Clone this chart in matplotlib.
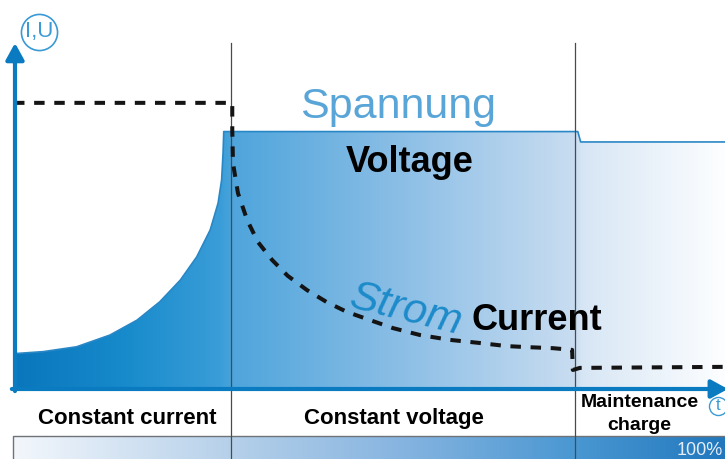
import numpy as np
import matplotlib
matplotlib.use('Agg')
import matplotlib.pyplot as plt
from matplotlib.patches import Polygon, Rectangle
from matplotlib.colors import to_rgb

plt.rcParams['font.family'] = ['Liberation Sans', 'DejaVu Sans']

# charging curve, time 0..100, level 0..100 (schematic units)
volt_t = [0, 0.6, 4.1, 8.8, 13.5, 17.3, 20.5, 23.4, 25.7, 27.6, 28.7, 29.2, 29.4, 29.5,
          79.3, 79.7, 100]
volt_v = [10.3, 10.3, 10.8, 12.2, 15.6, 19.9, 25.2, 31.5, 38.2, 46.0, 53.7, 60.4, 68.1, 74.4,
          74.4, 71.4, 71.4]

curr_t = [0, 30.7, 30.7, 30.8, 31.5, 32.8, 34.3, 36.3, 38.5, 41.2, 44.0, 46.8, 50.1, 53.3,
          57.1, 61.3, 65.5, 69.3, 72.2, 75.8, 78.5, 78.6, 79.6, 100]
curr_v = [82.7, 82.7, 74.9, 65.3, 56.6, 48.8, 42.5, 37.3, 32.7, 28.6, 25.1, 22.3, 19.9, 17.6,
          15.6, 14.2, 13.3, 12.4, 12.1, 11.8, 11.3, 5.5, 6.1, 6.4]

phase_edges = [30.5, 78.9]
phase_names = ['Constant current', 'Constant voltage', 'Maintenance\ncharge']

# gradient stops (time, colour)
fill_stops = [(0, '#0a76bc'), (15, '#168acb'), (29, '#3a9dd8'), (31, '#4fa5dc'),
              (55, '#8dbfe6'), (79, '#c9ddf1'), (80, '#d7e6f5'), (100, '#fdfeff')]
band_stops = [(0, '#f3f7fc'), (30, '#b7d1ea'), (55, '#85b4e0'), (79, '#4a97d2'), (100, '#2178bd')]


def gradient(stops, n=400):
    xs = np.linspace(0, 100, n)
    pos = [s[0] for s in stops]
    cols = np.array([to_rgb(s[1]) for s in stops])
    rgb = np.stack([np.interp(xs, pos, cols[:, k]) for k in range(3)], axis=-1)
    return rgb[np.newaxis, :, :]


fig = plt.figure(figsize=(7.25, 4.59), dpi=100)
ax = fig.add_axes([0, 0, 1, 1])
xlim = (-14 / 7.11, 100)
ylim = (-70 / 3.46, 389 / 3.46)

# voltage area with horizontal gradient
verts = list(zip(volt_t, volt_v)) + [(100, 0), (0, 0)]
clip = Polygon(verts, closed=True, facecolor='none', edgecolor='none')
ax.add_patch(clip)
im = ax.imshow(gradient(fill_stops), extent=(0, 100, 0, 76), aspect='auto',
               origin='lower', interpolation='bilinear', zorder=1)
im.set_clip_path(clip)
ax.plot(volt_t, volt_v, color='#2a87c6', lw=1.2, zorder=2)

# bottom charge-level band
ax.imshow(gradient(band_stops), extent=(-0.14, 100, -20.4, -13.6), aspect='auto',
          origin='lower', interpolation='bilinear', zorder=1)
ax.add_patch(Rectangle((-0.14, -13.6), 101, -7, facecolor='none', edgecolor='#6f7378',
                       lw=1.0, zorder=2, clip_on=False))

for e in phase_edges:
    ax.plot([e, e], [100, ylim[0]], color='#4a4a4a', lw=0.9, zorder=3)

ax.plot(curr_t, curr_v, color='#141414', lw=2.9, dashes=(2.6, 2.4), zorder=4)

# axes arrows
arr = dict(arrowstyle='-|>,head_length=1.0,head_width=0.55', lw=3, color='#0a7bc0',
           shrinkA=0, shrinkB=0)
ax.annotate('', xy=(100.4, 0), xytext=(-0.3, 0), arrowprops=arr, annotation_clip=False, zorder=5)
ax.annotate('', xy=(0.14, 100), xytext=(0.14, -0.6), arrowprops=arr, annotation_clip=False, zorder=5)

ax.plot([3.52], [103.2], marker='o', ms=26, mfc='white', mec='#3a9ad5', mew=1.2, zorder=5)
ax.text(3.52, 103.2, 'I,U', color='#3a9ad5', fontsize=16, ha='center', va='center', zorder=6)
ax.plot([99.0], [-4.9], marker='o', ms=13, mfc='white', mec='#3a9ad5', mew=1.0, zorder=5,
        clip_on=False)
ax.text(99.0, -4.9, 't', color='#3a9ad5', fontsize=12, ha='center', va='center', zorder=6)

# labels
ax.text(40.2, 78.3, 'Spannung', color='#5aa5d8', fontsize=31, ha='left', va='baseline', zorder=6)
ax.text(46.6, 62.7, 'Voltage', color='black', fontsize=26, fontweight='bold',
        ha='left', va='baseline', zorder=6)
ax.text(47.0, 23.6, 'Strom', color='#1d8bc9', fontsize=31, fontstyle='italic', rotation=-14,
        rotation_mode='anchor', ha='left', va='baseline', zorder=6)
ax.text(64.4, 17.1, 'Current', color='black', fontsize=26, fontweight='bold',
        ha='left', va='baseline', zorder=6)

ax.text(15.9, -10.1, phase_names[0], fontsize=16, fontweight='bold', ha='center', va='baseline')
ax.text(53.4, -10.1, phase_names[1], fontsize=16, fontweight='bold', ha='center', va='baseline')
ax.text(88.0, -5.2, 'Maintenance', fontsize=14, fontweight='bold', ha='center', va='baseline')
ax.text(88.0, -11.8, 'charge', fontsize=14, fontweight='bold', ha='center', va='baseline')
ax.text(93.2, -19.1, '100%', color='#e4edf6', fontsize=13, ha='left', va='baseline', zorder=6)

ax.set_xlim(*xlim)
ax.set_ylim(*ylim)
ax.axis('off')
fig.savefig('out.png', dpi=100)
